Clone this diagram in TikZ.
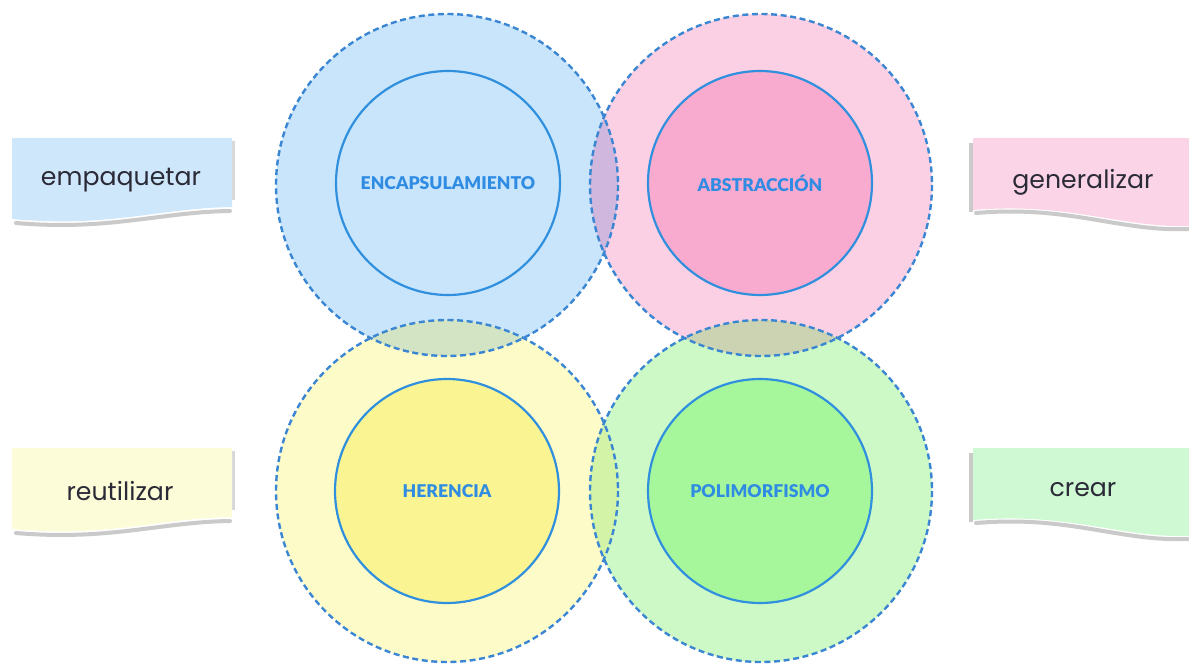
\documentclass[tikz,border=0pt]{standalone}
\usepackage{fontspec}
\setmainfont{Lato}
\newfontfamily\notefont{Poppins}
\newfontfamily\labfont{Lato Black}
\definecolor{oblue}{HTML}{C9E5FB}
\definecolor{opink}{HTML}{FBD0E5}
\definecolor{oyel}{HTML}{FDFBC8}
\definecolor{ogreen}{HTML}{CDF9C6}
\definecolor{ipink}{HTML}{F9AACF}
\definecolor{iyel}{HTML}{FAF592}
\definecolor{igreen}{HTML}{A6F79C}
\definecolor{lensbp}{HTML}{D0B7DD}
\definecolor{lensby}{HTML}{D2E4C4}
\definecolor{lenspg}{HTML}{CBD3B3}
\definecolor{lensyg}{HTML}{D3F3A6}
\definecolor{dashc}{HTML}{3A86D2}
\definecolor{ringc}{HTML}{3090DE}
\definecolor{labc}{HTML}{2F8CE2}
\definecolor{nblue}{HTML}{CFE7FB}
\definecolor{npink}{HTML}{FBD4E8}
\definecolor{nyel}{HTML}{FDFCD8}
\definecolor{ngreen}{HTML}{CEF9D3}
\definecolor{notetext}{HTML}{2B2B38}
\tikzset{
  outerring/.style={draw=dashc, line width=1.2pt, dash pattern=on 3pt off 1.8pt},
  innerring/.style={circle, draw=ringc, line width=1.1pt, minimum size=112pt, inner sep=0pt,
     font=\labfont\fontsize{8.8}{9}\selectfont, text=labc},
  notetxt/.style={font=\notefont\fontsize{12.6}{14}\selectfont, text=notetext, inner sep=0pt},
  shade/.style={draw=gray!70, line width=2pt, opacity=0.6, line cap=round},
}
\begin{document}
\begin{tikzpicture}[x=0.5pt,y=-0.5pt]
\useasboundingbox (0,0) rectangle (1189,664);
\def\R{171}
% centers
\coordinate (tl) at (447,185);
\coordinate (tr) at (761,185);
\coordinate (bl) at (447,491);
\coordinate (br) at (761,491);
% outer fills
\fill[oblue] (tl) circle[radius=\R];
\fill[opink] (tr) circle[radius=\R];
\fill[oyel] (bl) circle[radius=\R];
\fill[ogreen] (br) circle[radius=\R];
% lenses
\begin{scope}\clip (tl) circle[radius=\R]; \fill[lensbp] (tr) circle[radius=\R]; \end{scope}
\begin{scope}\clip (tl) circle[radius=\R]; \fill[lensby] (bl) circle[radius=\R]; \end{scope}
\begin{scope}\clip (tr) circle[radius=\R]; \fill[lenspg] (br) circle[radius=\R]; \end{scope}
\begin{scope}\clip (bl) circle[radius=\R]; \fill[lensyg] (br) circle[radius=\R]; \end{scope}
% inner circles
\node[innerring, fill=oblue] (enc) at (448,183) {ENCAPSULAMIENTO};
\node[innerring, fill=ipink] (abs) at (760,183) {ABSTRACCIÓN};
\node[innerring, fill=iyel] (her) at (447,491) {HERENCIA};
\node[innerring, fill=igreen] (pol) at (760,491) {POLIMORFISMO};
% outer dashed rings
\draw[outerring] (tl) circle[radius=\R];
\draw[outerring] (tr) circle[radius=\R];
\draw[outerring] (bl) circle[radius=\R];
\draw[outerring] (br) circle[radius=\R];
% left notes
\foreach \yy/\col in {0/nblue, 310/nyel}{
  \begin{scope}[yshift=-0.5*\yy]
    \draw[shade] (230,211) .. controls (160,212) and (110,231) .. (16,223);
    \draw[draw=gray!60, line width=1.5pt, opacity=0.5] (233,141) -- (233,200);
    \fill[\col] (12,138) -- (232,138) -- (232,207) .. controls (160,208) and (110,228) .. (12,219) -- cycle;
  \end{scope}
}
\node[notetxt] (n1) at (121,180) {empaquetar};
\node[notetxt] (n3) at (120,491) {reutilizar};
% right notes
\foreach \yy/\col in {0/npink, 310/ngreen}{
  \begin{scope}[yshift=-0.5*\yy]
    \draw[shade] (976,213) .. controls (1070,205) and (1120,232) .. (1189,229);
    \draw[draw=gray!70, line width=2pt, opacity=0.6] (971,143) -- (971,212);
    \fill[\col] (973,138) -- (1189,138) -- (1189,226) .. controls (1120,228) and (1070,202) .. (973,210) -- cycle;
  \end{scope}
}
\node[notetxt] (n2) at (1083,182) {generalizar};
\node[notetxt] (n4) at (1083,490) {crear};
\end{tikzpicture}
\end{document}
